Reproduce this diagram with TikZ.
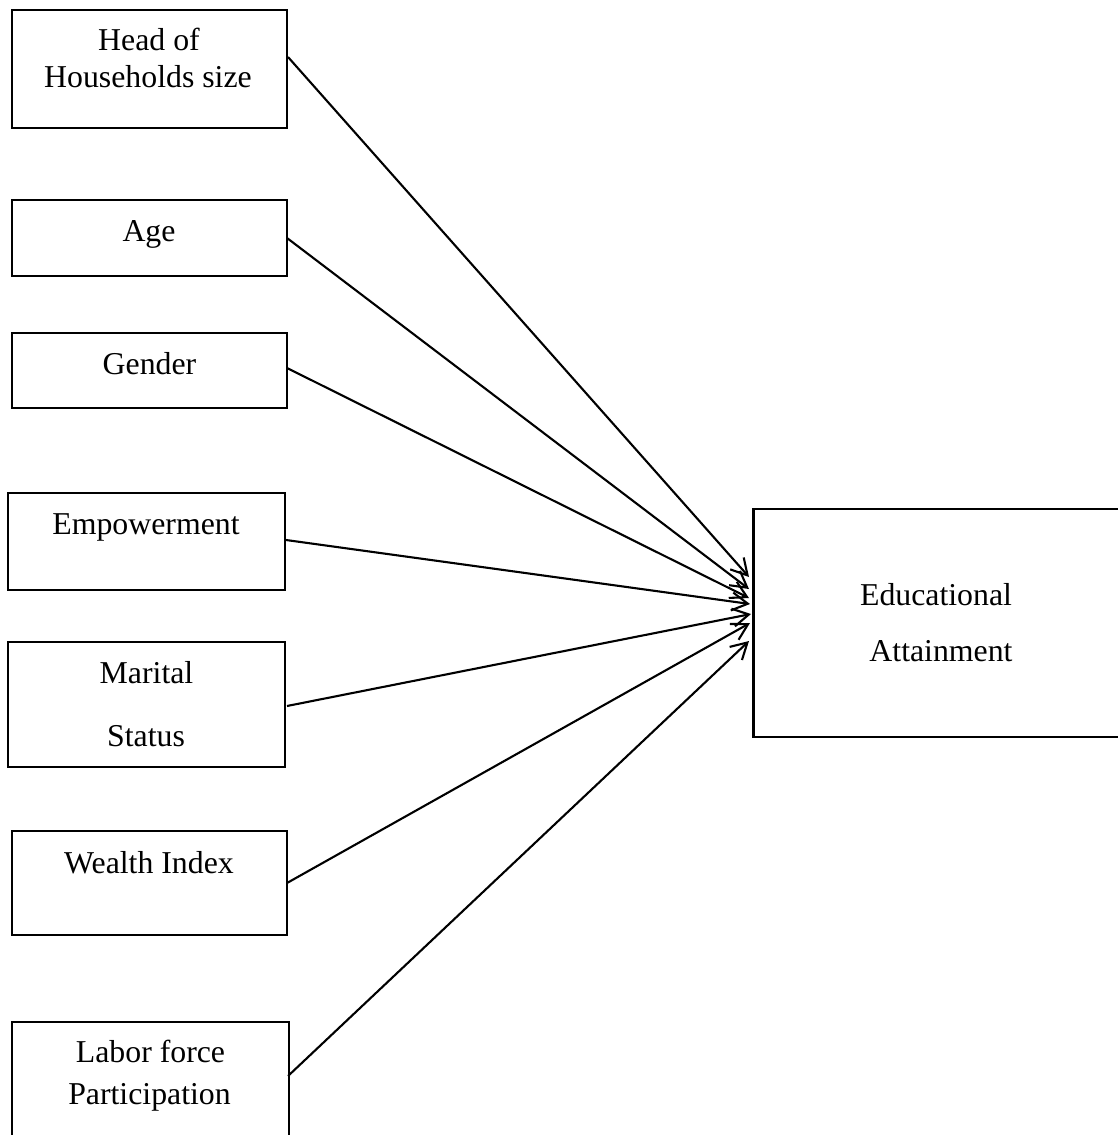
\documentclass[tikz,border=0pt]{standalone}
\usepackage{fontspec}
\setmainfont{Liberation Serif}
\usetikzlibrary{arrows.meta}
\begin{document}
\begin{tikzpicture}[x=0.5pt,y=-0.5pt,
  box/.style={draw, line width=1.1pt, rectangle, inner sep=0pt, outer sep=0pt},
  lbl/.style={inner sep=0pt, anchor=base, font=\fontsize{15.9}{19}\selectfont},
  conn/.style={line width=1.05pt, -{Straight Barb[length=8pt,width=9pt,line width=1.05pt]}}]
\useasboundingbox (0,0) rectangle (1118,1135);
% boxes
\node[box, minimum width=137.5pt, minimum height=59pt] (head) at (149.5,69) {};
\node[box, minimum width=137.5pt, minimum height=38pt] (age) at (149.5,238) {};
\node[box, minimum width=137.5pt, minimum height=37.5pt] (gender) at (149.5,370.5) {};
\node[box, minimum width=138.5pt, minimum height=48.5pt] (emp) at (146.5,541.5) {};
\node[box, minimum width=138.5pt, minimum height=62.5pt] (marital) at (146.5,704.5) {};
\node[box, minimum width=137.5pt, minimum height=52pt] (wealth) at (149.5,883) {};
\node[box, minimum width=138.5pt, minimum height=59pt] (labor) at (150.5,1081) {};
\node[box, minimum width=189pt, minimum height=114pt] (edu) at (942.5,623) {};
% labels
\node[lbl] (thead1) at (149,50) {Head of};
\node[lbl] (thead2) at (148,87) {Households size};
\node[lbl] (tage) at (149,241) {Age};
\node[lbl] (tgender) at (149.5,374) {Gender};
\node[lbl] (temp) at (146,534) {Empowerment};
\node[lbl] (tmar1) at (146.5,683) {Marital};
\node[lbl] (tmar2) at (146,746) {Status};
\node[lbl] (twealth) at (149,873) {Wealth Index};
\node[lbl] (tlab1) at (150.5,1062) {Labor force};
\node[lbl] (tlab2) at (149.5,1104) {Participation};
\node[lbl] (tedu1) at (936,605) {Educational};
\node[lbl] (tedu2) at (941,661) {Attainment};
% connector end points
\coordinate (s1) at (288,57);
\coordinate (s2) at (287,238);
\coordinate (s3) at (287,368);
\coordinate (s4) at (286,540);
\coordinate (s5) at (287,706);
\coordinate (s6) at (287,883);
\coordinate (s7) at (288,1076);
\coordinate (e1) at (749,577);
\coordinate (e2) at (749,589);
\coordinate (e3) at (749,598);
\coordinate (e4) at (750,604);
\coordinate (e5) at (751,614);
\coordinate (e6) at (750,623);
\coordinate (e7) at (749,641);
\draw[conn] (s1) -- (e1);
\draw[conn] (s2) -- (e2);
\draw[conn] (s3) -- (e3);
\draw[conn] (s4) -- (e4);
\draw[conn] (s5) -- (e5);
\draw[conn] (s6) -- (e6);
\draw[conn] (s7) -- (e7);
\end{tikzpicture}
\end{document}
